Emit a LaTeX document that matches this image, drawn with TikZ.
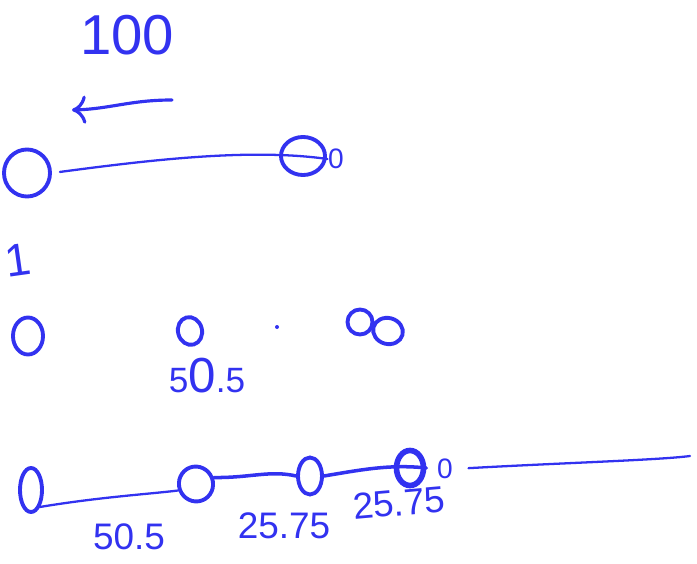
\documentclass[tikz,border=0pt]{standalone}
\usepackage{xcolor}
\definecolor{penBlue}{RGB}{50,50,240}
\usepackage{fontspec}
\setmainfont{Liberation Sans}
\usepackage{tikz}
\usetikzlibrary{arrows.meta,shapes.geometric,positioning,calc}
\tikzstyle{zero}=[draw=penBlue, ellipse, line width=1.1pt, inner sep=0pt]
\tikzstyle{ink}=[draw=penBlue, line width=0.65pt, line cap=round]
\tikzstyle{note}=[text=penBlue, inner sep=0pt]

\begin{document}
\begin{tikzpicture}[x=0.01cm, y=-0.01cm]
    \useasboundingbox (0,0) rectangle (697,564);

    % total and direction
    \node[note, font=\fontsize{16}{16}\selectfont] (total) at (127,35) {100};
    \coordinate (arrS) at (172,100);
    \coordinate (arrE) at (72,110);
    \draw[ink, line width=0.9pt, -{To[length=4pt,width=8pt]}] (arrS) .. controls (130,100) and (110,109) .. (arrE);

    % first row
    \node[zero, minimum width=0.46cm, minimum height=0.47cm] (a) at (27,173) {};
    \node[zero, minimum width=0.44cm, minimum height=0.38cm] (b) at (303,156) {};
    \node[note, font=\fontsize{8}{8}\selectfont] (b0) at (336,159) {0};
    \draw[ink, shorten <=0.08cm] (a.east) .. controls (150,160) and (250,148) .. (b0.west);

    % second row
    \node[note, font=\fontsize{13}{13}\selectfont, rotate=8] (one) at (18,260) {1};
    \node[zero, minimum width=0.30cm, minimum height=0.37cm] (c) at (28,336) {};
    \node[zero, minimum width=0.24cm, minimum height=0.28cm, rotate=15] (d) at (190,331) {};
    \fill[penBlue] (277,327) circle (2);
    \node[zero, minimum width=0.25cm, minimum height=0.25cm] (e1) at (360,322) {};
    \node[zero, minimum width=0.30cm, minimum height=0.26cm, rotate=-15] (e2) at (388,331) {};
    \node[note, font=\fontsize{10}{10}\selectfont] (dlbl) at (207,376) {5{\fontsize{14}{14}\selectfont 0}.5};

    % third row
    \node[zero, minimum width=0.22cm, minimum height=0.44cm] (f) at (31,490) {};
    \node[zero, minimum width=0.34cm, minimum height=0.35cm, rotate=20] (g) at (196,484) {};
    \node[zero, minimum width=0.24cm, minimum height=0.37cm] (h) at (310,476) {};
    \node[zero, minimum width=0.27cm, minimum height=0.35cm, line width=1.6pt] (i) at (410,468) {};
    \node[note, font=\fontsize{8}{8}\selectfont] (i0) at (445,469) {0};
    \coordinate (tailEnd) at (690,456);
    \draw[ink] (f.south east) .. controls (100,497) and (150,494) .. (g.west);
    \draw[ink, line width=1pt] (g.east) .. controls (250,478) and (270,470) .. (h.west);
    \draw[ink, line width=1pt] (h.east) .. controls (360,470) and (390,464) .. (i.east);
    \draw[ink, shorten <=0.15cm] (i0.east) .. controls (560,463) and (660,460) .. (tailEnd);
    \node[note, font=\fontsize{10.5}{10.5}\selectfont] (l1) at (129,537) {50.5};
    \node[note, font=\fontsize{10.5}{10.5}\selectfont] (l2) at (284,526) {25.75};
    \node[note, font=\fontsize{10.5}{10.5}\selectfont, rotate=5] (l3) at (399,503) {25.75};
\end{tikzpicture}
\end{document}
